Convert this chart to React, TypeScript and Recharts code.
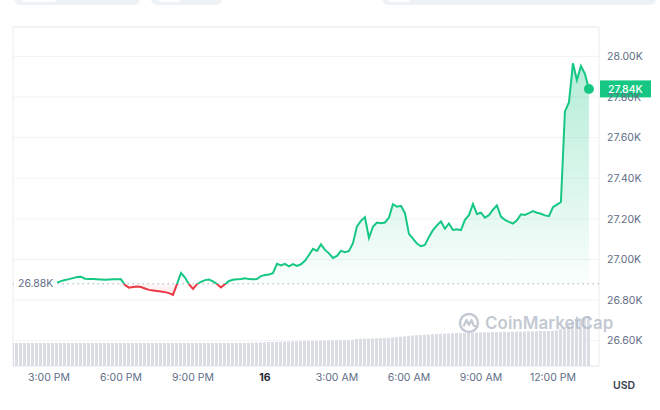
import React from 'react';
import {
  ComposedChart,
  Area,
  Bar,
  XAxis,
  YAxis,
  CartesianGrid,
  ReferenceLine,
  ReferenceArea,
  ReferenceDot,
} from 'recharts';

// time grid: one row every 10 minutes, hours counted from midnight of the 15th
const START_HOUR = 13.5;
const STEP_HOURS = 1 / 6;
const PRICE_START_INDEX = 11;

const timeTicks = [15, 18, 21, 24, 27, 30, 33, 36];
const priceTicks = [26600, 26800, 27000, 27200, 27400, 27600, 27800, 28000];
const X_DOMAIN = [13.5, 37.92];
const PRICE_DOMAIN = [26475, 28145];
const VOL_DOMAIN = [0, 170];
const BASE_PRICE = 26880;

// BTC price (USD), from 15:20 on
const priceValues = [
  26886, 26893, 26899, 26903, 26908, 26913, 26915, 26905, 26904, 26903,
  26902, 26901, 26900, 26901, 26902, 26902, 26902, 26874, 26861, 26864,
  26866, 26864, 26857, 26850, 26847, 26844, 26842, 26839, 26834, 26825,
  26878, 26933, 26911, 26878, 26855, 26878, 26889, 26898, 26901, 26892,
  26879, 26862, 26878, 26894, 26900, 26902, 26904, 26907, 26903, 26902,
  26903, 26918, 26923, 26926, 26932, 26978, 26970, 26978, 26966, 26977,
  26968, 26976, 26993, 27022, 27052, 27042, 27074, 27047, 27030, 27007,
  27017, 27042, 27036, 27042, 27080, 27163, 27190, 27208, 27106, 27161,
  27182, 27178, 27182, 27206, 27272, 27260, 27264, 27228, 27126, 27103,
  27078, 27065, 27071, 27111, 27144, 27168, 27187, 27151, 27177, 27145,
  27148, 27144, 27195, 27218, 27273, 27224, 27230, 27206, 27218, 27245,
  27266, 27211, 27195, 27185, 27177, 27193, 27222, 27219, 27228, 27238,
  27230, 27225, 27217, 27213, 27257, 27270, 27283, 27729, 27773, 27966,
  27884, 27953, 27914, 27840,
];

// 24h volume (billions USD)
const volumeValues = [
  11.5, 11.5, 11.5, 11.5, 11.5, 11.5, 11.5, 11.5, 11.5, 11.5,
  11.5, 11.5, 11.5, 11.5, 11.5, 11.5, 11.5, 11.5, 11.5, 11.5,
  11.5, 11.5, 11.5, 11.5, 11.5, 11.5, 11.5, 11.5, 11.5, 11.5,
  11.5, 11.5, 11.5, 11.5, 11.5, 11.5, 11.5, 11.5, 11.5, 11.5,
  11.5, 11.5, 11.5, 11.5, 11.5, 11.5, 11.5, 11.5, 11.5, 11.5,
  11.5, 11.5, 11.5, 11.5, 11.5, 11.5, 11.6, 11.6, 11.6, 11.6,
  11.7, 11.8, 11.8, 11.9, 12.0, 12.0, 12.1,
  12.2, 12.2, 12.3, 12.3, 12.4, 12.4, 12.5, 12.5, 12.6, 12.6, 12.7, 12.7, 12.8,
  12.8, 12.9, 12.9, 13.0, 13.0, 13.1, 13.6,
  13.7, 13.7, 13.8, 13.8, 13.9, 14.0, 14.0, 14.1, 14.3,
  14.5, 14.7, 14.9, 15.1, 15.3, 15.4, 15.5, 15.6, 15.8, 15.9, 16.0, 16.1, 16.2,
  16.3, 16.4, 16.5, 16.6, 16.6, 16.7, 16.7, 16.8, 16.8, 16.9, 16.9, 17.0, 17.0,
  17.0, 17.1, 17.1, 17.2, 17.2, 17.3, 17.3, 17.4, 17.4, 17.5, 17.5, 17.6, 17.6, 17.7,
  17.9, 18.6, 19.6, 20.8, 22.0, 23.0, 23.8, 24.5, 25.1,
];

const GREEN = '#16c784';
const RED = '#ea3943';
const TEXT = '#616e85';

const data = volumeValues.map((vol, i) => {
  const p = i - PRICE_START_INDEX;
  return {
    t: START_HOUR + i * STEP_HOURS,
    vol,
    price: p >= 0 && p < priceValues.length ? priceValues[p] : null,
  };
});

const lastRow = data[PRICE_START_INDEX + priceValues.length - 1];
const lastPrice = priceValues[priceValues.length - 1];
const maxPrice = Math.max(...priceValues);
const minPrice = Math.min(...priceValues);
const splitOffset = (maxPrice - BASE_PRICE) / (maxPrice - minPrice);

const fmtK = (v: number) => `${(v / 1000).toFixed(2)}K`;

const fmtHour = (t: number) => {
  const h = t % 24;
  if (h === 0) return '16';
  const h12 = h % 12 === 0 ? 12 : h % 12;
  return `${h12}:00 ${h < 12 ? 'AM' : 'PM'}`;
};

const TimeTick = ({ x, y, payload }: any) => {
  const isDay = payload.value % 24 === 0;
  return (
    <text
      x={x}
      y={y}
      dy="0.71em"
      textAnchor="middle"
      fontSize={10.5}
      fontWeight={isDay ? 700 : 400}
      fill={isDay ? '#222531' : TEXT}
    >
      {fmtHour(payload.value)}
    </text>
  );
};

const BaseTag = ({ viewBox }: any) => {
  if (!viewBox) return null;
  const { x, y } = viewBox;
  return (
    <g>
      <rect x={x + 2} y={y - 8} width={42} height={16} fill="#fff" />
      <text x={x + 5} y={y} dy="0.35em" fontSize={10.5} fill={TEXT}>
        {fmtK(BASE_PRICE)}
      </text>
    </g>
  );
};

const PriceTag = ({ viewBox }: any) => {
  if (!viewBox) return null;
  const { x, y, width } = viewBox;
  const left = x + width + 1;
  return (
    <g>
      <rect x={left} y={y - 8.5} width={51} height={17} fill={GREEN} />
      <text x={left + 8} y={y} dy="0.35em" fontSize={10.5} fontWeight={500} fill="#fff">
        {fmtK(lastPrice)}
      </text>
    </g>
  );
};

const Watermark = () => (
  <div
    style={{
      position: 'absolute',
      left: 458,
      top: 312,
      display: 'flex',
      alignItems: 'center',
      gap: 5,
      color: 'rgba(175,183,196,0.75)',
      fontSize: 17,
      fontWeight: 600,
      pointerEvents: 'none',
    }}
  >
    <svg width={22} height={22} viewBox="0 0 22 22">
      <circle cx={11} cy={11} r={9} fill="none" stroke="rgba(175,183,196,0.75)" strokeWidth={2.4} />
      <path
        d="M5.5 14.5 L8.5 8 L11 13 L13.5 8 L15.5 13 Q16.5 15 18 13.5"
        fill="none"
        stroke="rgba(175,183,196,0.75)"
        strokeWidth={2.2}
        strokeLinejoin="round"
      />
    </svg>
    <span>CoinMarketCap</span>
  </div>
);

const TopTabs = () => (
  <>
    {[
      [14, 126, 21, 36],
      [151, 71, 158, 23],
      [382, 274, 388, 23],
    ].map(([l, w, il, iw], k) => (
      <React.Fragment key={k}>
        <div
          style={{
            position: 'absolute',
            left: l,
            top: -8,
            width: w,
            height: 13,
            background: '#eff2f5',
            borderRadius: 6,
          }}
        />
        <div
          style={{
            position: 'absolute',
            left: il,
            top: -8,
            width: iw,
            height: 10,
            background: '#fff',
            borderRadius: 4,
          }}
        />
      </React.Fragment>
    ))}
  </>
);

export default function App() {
  return (
    <div
      style={{
        position: 'absolute',
        left: 0,
        top: 0,
        width: 660,
        height: 410,
        background: '#fff',
        fontFamily: 'Inter, "Noto Sans", sans-serif',
        overflow: 'hidden',
      }}
    >
      <TopTabs />
      <ComposedChart
        width={660}
        height={410}
        data={data}
        margin={{ top: 27, right: 0, bottom: 14, left: 13 }}
      >
        <defs>
          <linearGradient id="lineGrad" x1="0" y1="0" x2="0" y2="1">
            <stop offset={0} stopColor={GREEN} />
            <stop offset={splitOffset} stopColor={GREEN} />
            <stop offset={splitOffset} stopColor={RED} />
            <stop offset={1} stopColor={RED} />
          </linearGradient>
          <linearGradient id="fillGrad" x1="0" y1="0" x2="0" y2="1">
            <stop offset={0} stopColor={GREEN} stopOpacity={0.32} />
            <stop offset={splitOffset} stopColor={GREEN} stopOpacity={0.02} />
            <stop offset={splitOffset} stopColor={RED} stopOpacity={0.04} />
            <stop offset={1} stopColor={RED} stopOpacity={0.1} />
          </linearGradient>
        </defs>
        <CartesianGrid yAxisId="price" vertical={false} stroke="#f1f3f6" />
        <ReferenceArea
          yAxisId="price"
          x1={X_DOMAIN[0]}
          x2={X_DOMAIN[1]}
          y1={PRICE_DOMAIN[0]}
          y2={PRICE_DOMAIN[1]}
          fill="none"
          stroke="#e9ecf0"
        />
        <XAxis
          dataKey="t"
          type="number"
          domain={X_DOMAIN}
          ticks={timeTicks}
          allowDataOverflow
          axisLine={false}
          tickLine={false}
          height={30}
          tick={<TimeTick />}
        />
        <YAxis
          yAxisId="price"
          orientation="right"
          domain={PRICE_DOMAIN}
          ticks={priceTicks}
          allowDataOverflow
          axisLine={false}
          tickLine={false}
          width={61}
          tickFormatter={fmtK}
          tick={{ fontSize: 10.5, fill: TEXT }}
        />
        <YAxis yAxisId="vol" hide domain={VOL_DOMAIN} allowDataOverflow />
        <Bar
          yAxisId="vol"
          dataKey="vol"
          fill="#d9dde3"
          barSize={3}
          isAnimationActive={false}
        />
        <ReferenceLine
          yAxisId="price"
          y={BASE_PRICE}
          stroke="#a7b0c0"
          strokeDasharray="1.5 3.5"
          label={<BaseTag />}
        />
        <Area
          yAxisId="price"
          type="linear"
          dataKey="price"
          baseValue={BASE_PRICE}
          stroke="url(#lineGrad)"
          strokeWidth={2}
          fill="url(#fillGrad)"
          fillOpacity={1}
          dot={false}
          activeDot={false}
          isAnimationActive={false}
        />
        <ReferenceDot
          yAxisId="price"
          x={lastRow.t}
          y={lastPrice}
          r={5}
          fill={GREEN}
          stroke="none"
        />
        <ReferenceLine
          yAxisId="price"
          y={lastPrice}
          stroke="none"
          label={<PriceTag />}
        />
      </ComposedChart>
      <Watermark />
      <div
        style={{
          position: 'absolute',
          left: 613,
          top: 379,
          fontSize: 10.5,
          fontWeight: 600,
          color: '#3a4150',
        }}
      >
        USD
      </div>
    </div>
  );
}
